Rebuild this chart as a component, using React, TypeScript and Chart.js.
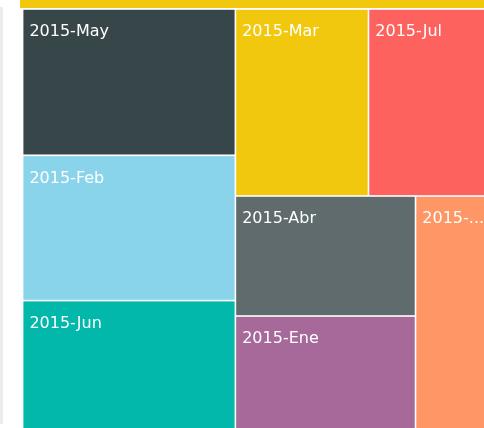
import React, { useEffect, useRef } from "react";
import { Chart, registerables } from "chart.js";

Chart.register(...registerables);

// ---- data ----
const months = ["2015-May", "2015-Feb", "2015-Jun", "2015-Mar", "2015-Jul", "2015-Abr", "2015-Ene", "2015-Ago"];
const sales = [31100, 30900, 30700, 24870, 22440, 21600, 23220, 18180];
const colors = ["#374649", "#8AD4EB", "#01B8AA", "#F2C80F", "#FD625E", "#5F6B6D", "#A66999", "#FE9666"];

// treemap container size (in scale units)
const BOX_W = 466;
const BOX_H = 436;

type Tile = { x: number; y: number; x0: number; y0: number; x1: number; y1: number; label: string; color: string; value: number };

function worst(row: number[], side: number): number {
  const s = row.reduce((a, b) => a + b, 0);
  const s2 = side * side;
  let w = 0;
  for (const r of row) {
    w = Math.max(w, (s2 * r) / (s * s), (s * s) / (s2 * r));
  }
  return w;
}

function squarify(values: number[], W: number, H: number) {
  const total = values.reduce((a, b) => a + b, 0);
  const k = (W * H) / total;
  const areas = values.map((v) => v * k);
  const out: { x0: number; y0: number; x1: number; y1: number }[] = [];
  let x = 0, y = 0, w = W, h = H;
  let i = 0;
  while (i < areas.length) {
    const side = Math.min(w, h);
    const row = [areas[i]];
    i++;
    while (i < areas.length && worst([...row, areas[i]], side) <= worst(row, side)) {
      row.push(areas[i]);
      i++;
    }
    const s = row.reduce((a, b) => a + b, 0);
    if (w >= h) {
      const cw = s / h;
      let yy = y;
      for (const r of row) {
        const rh = r / cw;
        out.push({ x0: x, y0: yy, x1: x + cw, y1: yy + rh });
        yy += rh;
      }
      x += cw;
      w -= cw;
    } else {
      const rh = s / w;
      let xx = x;
      for (const r of row) {
        const rw = r / rh;
        out.push({ x0: xx, y0: y, x1: xx + rw, y1: y + rh });
        xx += rw;
      }
      y += rh;
      h -= rh;
    }
  }
  return out;
}

const treemapPlugin = {
  id: "treemapTiles",
  afterDatasetsDraw(chart: any) {
    const ctx: CanvasRenderingContext2D = chart.ctx;
    const xs = chart.scales.x;
    const ys = chart.scales.y;
    const tiles: Tile[] = chart.data.datasets[0].data;
    const gap = 0.8;
    ctx.save();
    for (const t of tiles) {
      const px0 = xs.getPixelForValue(t.x0) + gap;
      const px1 = xs.getPixelForValue(t.x1) - gap;
      const py0 = ys.getPixelForValue(t.y0) + gap;
      const py1 = ys.getPixelForValue(t.y1) - gap;
      ctx.fillStyle = t.color;
      ctx.fillRect(px0, py0, px1 - px0, py1 - py0);

      ctx.save();
      ctx.beginPath();
      ctx.rect(px0, py0, px1 - px0, py1 - py0);
      ctx.clip();
      ctx.font = '16px "DejaVu Sans"';
      ctx.fillStyle = "#ffffff";
      ctx.textBaseline = "alphabetic";
      ctx.textAlign = "left";
      const pad = 6;
      const avail = px1 - px0 - pad - 1;
      let text = t.label;
      if (ctx.measureText(text).width > avail) {
        let n = text.length;
        while (n > 0 && ctx.measureText(text.slice(0, n) + "...").width > avail) n--;
        text = text.slice(0, n) + "...";
      }
      ctx.fillText(text, px0 + pad, py0 + 26.5);
      ctx.restore();
    }
    ctx.restore();
  },
};

export default function App() {
  const ref = useRef<HTMLCanvasElement | null>(null);
  useEffect(() => {
    if (!ref.current) return;
    const rects = squarify(sales, BOX_W, BOX_H);
    const tiles: Tile[] = rects.map((r, i) => ({
      ...r,
      x: (r.x0 + r.x1) / 2,
      y: (r.y0 + r.y1) / 2,
      label: months[i],
      color: colors[i],
      value: sales[i],
    }));
    const chart = new Chart(ref.current, {
      type: "scatter",
      data: {
        datasets: [
          {
            label: "Ventas",
            data: tiles as any,
            pointRadius: 0,
            pointHoverRadius: 0,
            showLine: false,
          },
        ],
      },
      options: {
        responsive: false,
        maintainAspectRatio: false,
        animation: false,
        events: [],
        layout: { padding: 0 },
        scales: {
          x: { type: "linear", min: -22.6, max: 484 - 22.6, display: false },
          y: { type: "linear", min: -9, max: 428 - 9, reverse: true, display: false },
        },
        plugins: { legend: { display: false }, tooltip: { enabled: false } },
      },
      plugins: [treemapPlugin],
    });
    return () => chart.destroy();
  }, []);

  return (
    <div style={{ position: "absolute", left: 0, top: 0, width: 484, height: 428, background: "#ffffff", overflow: "hidden" }}>
      <div style={{ position: "absolute", left: 20, top: 0, width: 464, height: 8, background: "#F2C80F" }} />
      <div style={{ position: "absolute", left: 0, top: 7, width: 3, height: 417, background: "#ececec" }} />
      <canvas ref={ref} width={484} height={428} style={{ position: "absolute", left: 0, top: 0, display: "block" }} />
    </div>
  );
}
